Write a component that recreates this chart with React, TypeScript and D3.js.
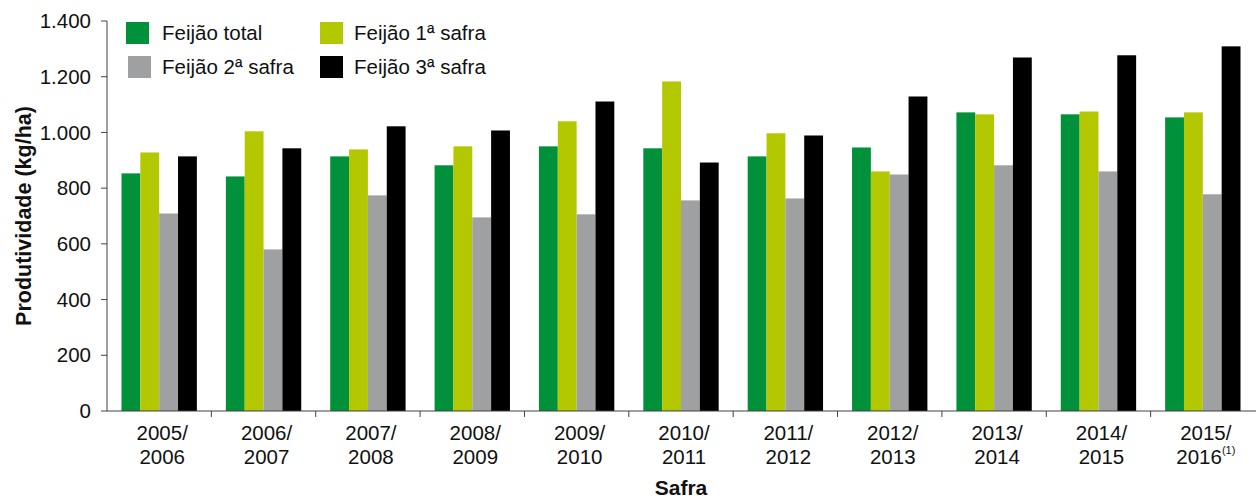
import { useEffect } from 'react';
import * as d3 from 'd3';

const categories = [
  '2005/2006', '2006/2007', '2007/2008', '2008/2009', '2009/2010', '2010/2011',
  '2011/2012', '2012/2013', '2013/2014', '2014/2015', '2015/2016',
];
const notes = ['', '', '', '', '', '', '', '', '', '', '(1)'];

const seriesNames = ['Feijão total', 'Feijão 1ª safra', 'Feijão 2ª safra', 'Feijão 3ª safra'];
const seriesColors = ['#00913a', '#b3c800', '#9fa0a2', '#000000'];

const total = [853, 842, 914, 882, 950, 943, 914, 946, 1072, 1065, 1054];
const primeira = [928, 1004, 939, 950, 1040, 1183, 997, 860, 1065, 1075, 1072];
const segunda = [709, 580, 774, 695, 706, 756, 763, 849, 882, 860, 778];
const terceira = [914, 943, 1022, 1007, 1111, 892, 989, 1129, 1269, 1277, 1309];

const yTicks = [0, 200, 400, 600, 800, 1000, 1200, 1400];

const W = 1256;
const H = 500;
const PLOT = { left: 107, right: 1255, top: 21, bottom: 411 };
const FONT = '"Liberation Sans", Arial, sans-serif';
const AXIS = '#404040';
const FS = 20.5;

const fmt = d3.formatLocale({ decimal: ',', thousands: '.', grouping: [3], currency: ['R$', ''] }).format(',d');

export default function App() {
  useEffect(() => {
    document.body.style.margin = '0';
  }, []);

  const values = [total, primeira, segunda, terceira];

  const x0 = d3.scaleBand<string>().domain(categories).range([PLOT.left, PLOT.right]);
  const bw = x0.bandwidth();
  const x1 = d3.scaleBand<number>().domain([0, 1, 2, 3]).range([14.5, bw - 14.5]);
  const y = d3.scaleLinear().domain([0, 1400]).range([PLOT.bottom, PLOT.top]);

  const boundaries = categories.map((c) => x0(c)!).slice(1);

  return (
    <svg width={W} height={H} style={{ display: 'block' }} fontFamily={FONT}>
      {/* bars */}
      {categories.map((c, i) => (
        <g key={c} transform={`translate(${x0(c)},0)`}>
          {values.map((s, k) => (
            <rect
              key={k}
              x={x1(k)}
              y={y(s[i])}
              width={x1.bandwidth()}
              height={y(0) - y(s[i])}
              fill={seriesColors[k]}
            />
          ))}
        </g>
      ))}

      {/* y axis */}
      <line x1={PLOT.left} x2={PLOT.left} y1={PLOT.top} y2={PLOT.bottom} stroke={AXIS} strokeWidth={1} />
      {yTicks.map((t) => (
        <g key={t}>
          <line x1={PLOT.left - 6} x2={PLOT.left} y1={y(t)} y2={y(t)} stroke={AXIS} />
          <text x={PLOT.left - 16} y={y(t)} dy="0.35em" textAnchor="end" fontSize={FS} fill="#111">
            {fmt(t)}
          </text>
        </g>
      ))}

      {/* x axis */}
      <line x1={PLOT.left} x2={W} y1={PLOT.bottom} y2={PLOT.bottom} stroke={AXIS} strokeWidth={1} />
      {boundaries.map((b, i) => (
        <line key={i} x1={b} x2={b} y1={PLOT.bottom} y2={PLOT.bottom + 6} stroke={AXIS} />
      ))}
      {categories.map((c, i) => {
        const [a, b] = c.split('/');
        const cx = x0(c)! + bw / 2 + 3;
        return (
          <g key={c}>
            <text x={cx} y={440} textAnchor="middle" fontSize={FS} fill="#111">
              {a}/
            </text>
            <text x={cx} y={464} textAnchor="middle" fontSize={FS} fill="#111">
              {b}
              {notes[i] && (
                <tspan fontSize={11} dy={-10}>
                  {notes[i]}
                </tspan>
              )}
            </text>
          </g>
        );
      })}

      {/* axis titles */}
      <text
        transform={`translate(31,${(PLOT.top + PLOT.bottom) / 2}) rotate(-90)`}
        textAnchor="middle"
        fontSize={21.5}
        fontWeight="bold"
        fill="#111"
      >
        Produtividade (kg/ha)
      </text>
      <text x={(PLOT.left + PLOT.right) / 2} y={495} textAnchor="middle" fontSize={21} fontWeight="bold" fill="#111">
        Safra
      </text>

      {/* legend */}
      {seriesNames.map((name, k) => {
        const col = k % 2 === 0 ? 0 : 1;
        const row = k === 0 || k === 1 ? 0 : 1;
        const lx = col === 0 ? 126 + row * 2 : 320;
        const ly = row === 0 ? 22 : 56;
        return (
          <g key={name}>
            <rect x={lx} y={ly} width={23} height={22} fill={seriesColors[k]} />
            <text x={col === 0 ? 162 : 354} y={ly + 18} fontSize={FS} fill="#111">
              {name}
            </text>
          </g>
        );
      })}
    </svg>
  );
}
